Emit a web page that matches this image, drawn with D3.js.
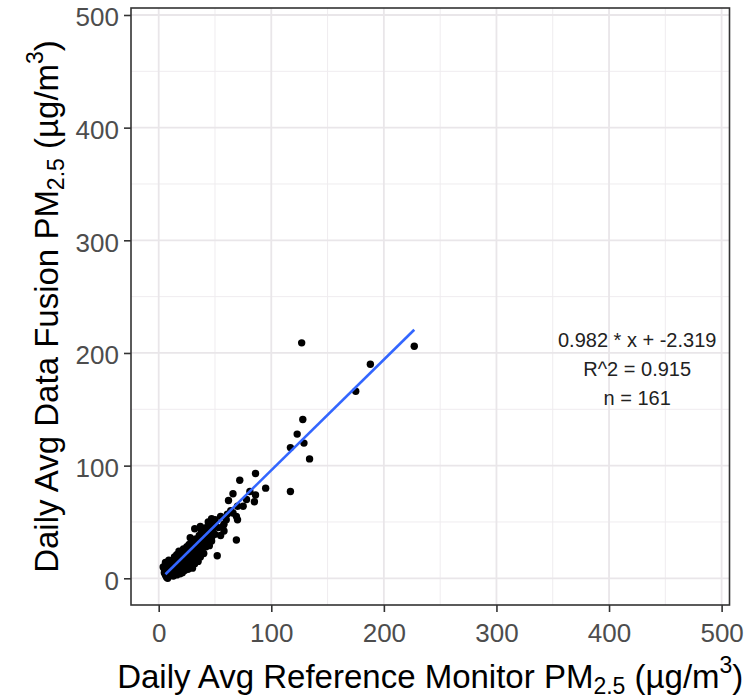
<!DOCTYPE html>
<html>
<head>
<meta charset="utf-8">
<script src="https://cdn.jsdelivr.net/npm/d3@7"></script>
<style>
  body { margin: 0; background: #fff; }
  text { font-family: "Liberation Sans", Arial, sans-serif; }
</style>
</head>
<body>
<div id="chart"></div>
<script>
// reference monitor (x) vs data fusion (y), daily avg PM2.5
var refX = [4,5,5,6,6,7,7,8,8,9,9,10,10,11,11,12,12,12,
  13,13,14,14,15,15,15,16,16,17,17,17,18,18,18,19,19,20,20,20,
  21,21,22,22,22,23,23,24,24,24,25,25,26,26,26,27,27,27,28,28,29,29,29,30,30,30,
  31,31,32,32,33,33,34,34,35,35,36,36,37,37,38,38,39,39,40,40,
  41,42,42,43,44,45,45,46,47,48,49,50,50,
  10,13,14,16,19,21,23,25,11,15,18,20,26,28,33,36,7,9,6,8,
  227,127,188,175,128,123,117,129,134,117,86,72,95,81,86,66,62,78,85,75,70,61,
  69,70,58,47,55,50,37,32,55,47,69,52,28,57,64,53,44,39,60,66,42,58]
var fusionY = [10,8,5,3,11,1,7,9,4,2,12,6,10,3,14,8,5,11,
  16,9,4,12,7,18,14,10,21,5,13,17,8,19,24,11,15,6,22,13,
  18,9,26,12,16,20,7,14,23,10,28,17,12,21,8,30,15,25,19,11,22,27,14,17,32,9,
  24,20,13,29,35,17,26,22,31,15,38,28,24,19,33,42,27,30,36,22,
  40,31,45,34,38,29,43,48,36,41,46,39,52,
  14,2,19,3,4,5,13,10,9,11,15,18,16,24,30,32,12,16,14,0,
  206,209,190,166,141,128,116,120,106,77,93,87,80,77,74,75,69,70,68,64,64,57,
  55,52,48,53,55,50,46,44,38,33,34,20,36,46,60,45,50,44,52,58,28,42]

var majorTicks = [0, 100, 200, 300, 400, 500]
var minorTicks = [50, 150, 250, 350, 450]

// lm fit shown in the panel
var fitSlope = 0.982, fitIntercept = -2.319
var fitX = [6, 227]
var annoLines = ["0.982 * x + -2.319", "R^2 = 0.915", "n = 161"]

var W = 747, H = 700
var margin = {top: 8, right: 17.5, bottom: 95, left: 131}

var svg = d3.select("#chart").append("svg")
  .attr("width", W).attr("height", H)

var x = d3.scaleLinear().domain([-24.6, 507]).range([margin.left, W - margin.right])
var y = d3.scaleLinear().domain([-23.7, 506.2]).range([H - margin.bottom, margin.top])

// grid
var grid = svg.append("g")
grid.selectAll("line.minx").data(minorTicks).join("line")
  .attr("x1", d => x(d)).attr("x2", d => x(d))
  .attr("y1", margin.top).attr("y2", H - margin.bottom)
  .attr("stroke", "#efecef").attr("stroke-width", 1)
grid.selectAll("line.miny").data(minorTicks).join("line")
  .attr("y1", d => y(d)).attr("y2", d => y(d))
  .attr("x1", margin.left).attr("x2", W - margin.right)
  .attr("stroke", "#efecef").attr("stroke-width", 1)
grid.selectAll("line.majx").data(majorTicks).join("line")
  .attr("x1", d => x(d)).attr("x2", d => x(d))
  .attr("y1", margin.top).attr("y2", H - margin.bottom)
  .attr("stroke", "#e9e6e9").attr("stroke-width", 1.8)
grid.selectAll("line.majy").data(majorTicks).join("line")
  .attr("y1", d => y(d)).attr("y2", d => y(d))
  .attr("x1", margin.left).attr("x2", W - margin.right)
  .attr("stroke", "#e9e6e9").attr("stroke-width", 1.8)

// points
var pts = refX.map((v, i) => ({x: v, y: fusionY[i]}))
svg.append("g").selectAll("circle").data(pts).join("circle")
  .attr("cx", d => x(d.x)).attr("cy", d => y(d.y))
  .attr("r", 3.7).attr("fill", "#000")

// fit line
var drawFit = d3.line().x(d => x(d)).y(d => y(fitSlope * d + fitIntercept))
svg.append("path").datum(fitX)
  .attr("fill", "none").attr("stroke", "#3366ff").attr("stroke-width", 2.6)
  .attr("d", drawFit)

// annotation
svg.append("g").selectAll("text").data(annoLines).join("text")
  .attr("x", x(425)).attr("y", (d, i) => y(205.5) + i * 29)
  .attr("text-anchor", "middle")
  .style("font-size", "20px").attr("fill", "#222")
  .text(d => d)

// panel border
svg.append("rect")
  .attr("x", margin.left).attr("y", margin.top)
  .attr("width", W - margin.right - margin.left)
  .attr("height", H - margin.bottom - margin.top)
  .attr("fill", "none").attr("stroke", "#333").attr("stroke-width", 1.6)

// axes
var xAxis = svg.append("g")
  .attr("transform", `translate(0,${H - margin.bottom})`)
  .call(d3.axisBottom(x).tickValues(majorTicks).tickSize(7).tickPadding(5))
var yAxis = svg.append("g")
  .attr("transform", `translate(${margin.left},0)`)
  .call(d3.axisLeft(y).tickValues(majorTicks).tickSize(7).tickPadding(5))
;[xAxis, yAxis].forEach(a => {
  a.select(".domain").remove()
  a.selectAll(".tick line").attr("stroke", "#333").attr("stroke-width", 1.6)
  a.selectAll(".tick text").attr("fill", "#4d4d4d")
    .style("font-size", "26px").style("font-family", "Liberation Sans, Arial, sans-serif")
})
yAxis.selectAll(".tick text").attr("dy", "0.42em")
xAxis.selectAll(".tick text").attr("dy", "0.95em")

// axis titles with sub/superscripts
function title(g, pre) {
  g.append("tspan").text(pre + "PM")
  g.append("tspan").text("2.5").style("font-size", "23px").attr("dy", 6)
  g.append("tspan").text(" (\u00b5g/m").attr("dy", -6)
  g.append("tspan").text("3").style("font-size", "23px").attr("dy", -15)
  g.append("tspan").text(")").attr("dy", 15)
}
var cx = (margin.left + W - margin.right) / 2
var xt = svg.append("text").attr("x", cx).attr("y", 688)
  .attr("text-anchor", "middle").style("font-size", "33px").attr("fill", "#000")
title(xt, "Daily Avg Reference Monitor ")

var cy = (margin.top + H - margin.bottom) / 2
var yt = svg.append("text")
  .attr("transform", `translate(58,${cy}) rotate(-90)`)
  .attr("text-anchor", "middle").style("font-size", "33px").attr("fill", "#000")
title(yt, "Daily Avg Data Fusion ")
</script>
</body>
</html>
